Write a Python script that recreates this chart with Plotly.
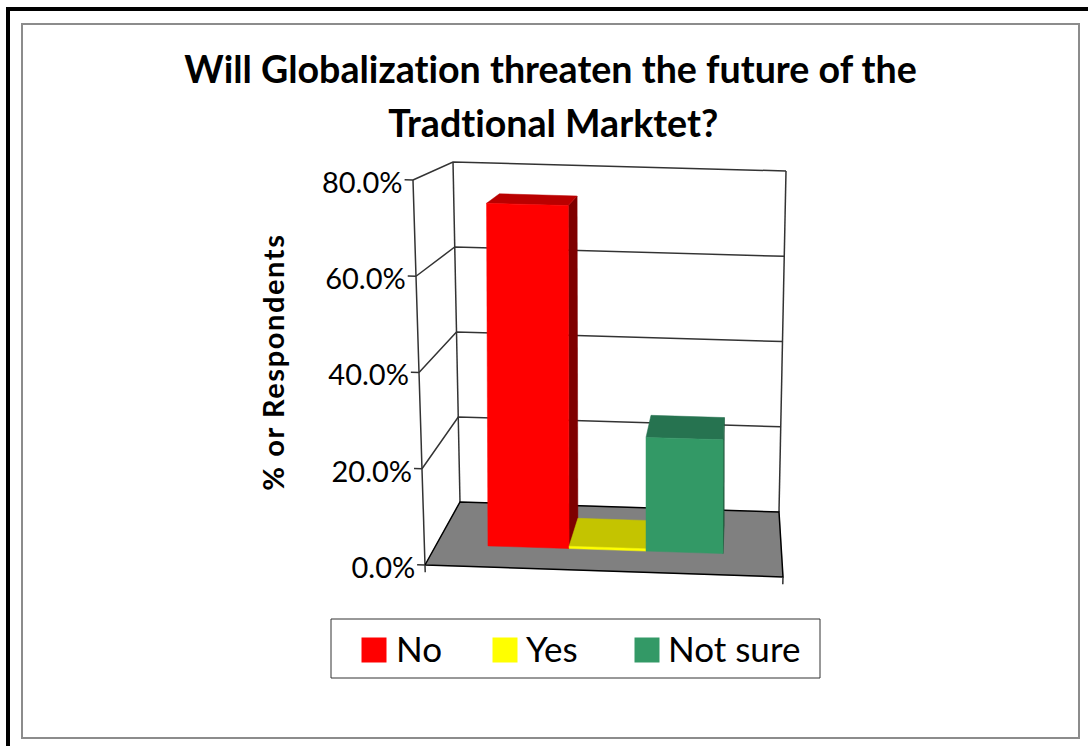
import plotly.graph_objects as go

# Survey results
categories = ["No", "Yes", "Not sure"]
shares = [0.74, 0.005, 0.245]
tick_values = [0.0, 0.2, 0.4, 0.6, 0.8]
tick_labels = ["0.0%", "20.0%", "40.0%", "60.0%", "80.0%"]
title_lines = ["Will Globalization threaten the future of the", "Tradtional Marktet?"]
value_title = "% or Respondents"

# Face shades for each series: front, top, side
front_colors = ["#FF0000", "#FFFF00", "#339966"]
top_colors = ["#BA0000", "#C4C400", "#267350"]
side_colors = ["#7F0000", "#7F7F00", "#1A4D33"]

VALUE_MAX = 0.8
FONT = "Lato"

# Screen corners of the 3D plot box, keyed (across, depth, height)
BOX = {
    (0, 0, 0): (425, 565), (1, 0, 0): (783, 577),
    (0, 1, 0): (460, 502), (1, 1, 0): (779, 512),
    (0, 0, 1): (413, 180), (1, 0, 1): (795, 190),
    (0, 1, 1): (453, 162), (1, 1, 1): (786, 171),
}
# Bars rise almost straight up, so their volume leans far less than the walls
BAR_BOX = dict(BOX)
BAR_BOX.update({
    (0, 0, 1): (423, 180), (1, 0, 1): (784, 190),
    (0, 1, 1): (458, 162), (1, 1, 1): (780, 171),
})
BAR_EDGES = [0.149, 0.384, 0.607, 0.83]
BAR_DEPTH = (0.33, 0.77)


def project(u, d, value, box=BOX):
    """Map a point of the plot box to figure coordinates."""
    h = value / VALUE_MAX
    x = y = 0.0
    for (cu, cd, ch), (px, py) in box.items():
        w = (u if cu else 1 - u) * (d if cd else 1 - d) * (h if ch else 1 - h)
        x += w * px
        y += w * py
    return x, y


def polygon(points, color, box=BOX, name=None):
    xs, ys = zip(*[project(*p, box) for p in points])
    return go.Scatter(x=list(xs) + [xs[0]], y=list(ys) + [ys[0]], mode="lines", fill="toself",
                      fillcolor=color, line=dict(color=color, width=0.5),
                      hoverinfo="skip", showlegend=False, name=name)


def polyline(points, color="#333333", width=1.5):
    xs, ys = zip(*[project(*p) for p in points])
    return go.Scatter(x=xs, y=ys, mode="lines", line=dict(color=color, width=width),
                      hoverinfo="skip", showlegend=False)


fig = go.Figure()

# Floor
fig.add_trace(polygon([(0, 0, 0), (1, 0, 0), (1, 1, 0), (0, 1, 0)], "#808080"))

# Walls and gridlines
for v in tick_values[1:]:
    fig.add_trace(polyline([(0, 0, v), (0, 1, v), (1, 1, v)]))
fig.add_trace(polyline([(0, 0, 0), (0, 0, VALUE_MAX)]))
fig.add_trace(polyline([(0, 1, 0), (0, 1, VALUE_MAX)]))
fig.add_trace(polyline([(1, 1, 0), (1, 1, VALUE_MAX)]))
fig.add_trace(polyline([(0, 0, 0), (0, 1, 0), (1, 1, 0), (1, 0, 0), (0, 0, 0)], "#000000"))

# Tick marks along the front-left edge and under the floor
for v in tick_values:
    fig.add_trace(polyline([(0, 0, v), (-0.022, 0, v)]))
for u in (0, 1):
    fig.add_trace(polyline([(u, 0, 0), (u, 0, -0.015)]))

# Bars, painted left to right
near, far = BAR_DEPTH
for i, value in enumerate(shares):
    a, b = BAR_EDGES[i], BAR_EDGES[i + 1]
    fig.add_trace(polygon([(b, near, 0), (b, far, 0), (b, far, value), (b, near, value)], side_colors[i], BAR_BOX))
    fig.add_trace(polygon([(a, near, value), (b, near, value), (b, far, value), (a, far, value)], top_colors[i], BAR_BOX))
    fig.add_trace(polygon([(a, near, 0), (b, near, 0), (b, near, value), (a, near, value)], front_colors[i], BAR_BOX, categories[i]))

# Value labels beside the tick marks
label_xy = [project(-0.03, 0, v) for v in tick_values]
fig.add_trace(go.Scatter(x=[p[0] + 1 for p in label_xy], y=[p[1] + 6 for p in label_xy], mode="text",
                         text=tick_labels, textposition="middle left",
                         textfont=dict(family=FONT, size=29, color="#000000"),
                         hoverinfo="skip", showlegend=False))

# Legend swatches and names
legend_swatch_x = [374, 505, 647]
legend_text_x = [396, 526, 668]
fig.add_trace(go.Scatter(x=legend_swatch_x, y=[650] * 3, mode="markers",
                         marker=dict(symbol="square", size=25, color=front_colors, line=dict(width=0)),
                         hoverinfo="skip", showlegend=False))
fig.add_trace(go.Scatter(x=legend_text_x, y=[653] * 3, mode="text", text=categories,
                         textposition="middle right",
                         textfont=dict(family=FONT, size=35, color="#000000"),
                         hoverinfo="skip", showlegend=False))

annotations = [
    dict(x=x, y=y, xref="x", yref="y", text=f"<b>{t}</b>", showarrow=False, xanchor="center", yanchor="middle",
         font=dict(family=FONT, size=37.6, color="#000000"))
    for t, x, y in zip(title_lines, (550, 553), (68, 122))
]
annotations.append(dict(x=272, y=362, xref="x", yref="y", text=f"<b>{value_title}</b>", showarrow=False,
                        textangle=-90, xanchor="center", yanchor="middle",
                        font=dict(family=FONT, size=29, color="#000000")))

frame = [
    # outer heavy border, top and left only
    dict(type="line", x0=6, x1=1088, y0=9, y1=9, line=dict(color="#000000", width=4)),
    dict(type="line", x0=8, x1=8, y0=7, y1=746, line=dict(color="#000000", width=4)),
    # chart area border
    dict(type="rect", x0=22, x1=1079, y0=24, y1=738, line=dict(color="#8c8c8c", width=2)),
    # legend box
    dict(type="rect", x0=331, x1=820, y0=619, y1=678, line=dict(color="#333333", width=1)),
]

fig.update_layout(
    width=1088, height=746, margin=dict(l=0, r=0, t=0, b=0),
    paper_bgcolor="#FFFFFF", plot_bgcolor="rgba(0,0,0,0)",
    showlegend=False, annotations=annotations, shapes=frame,
    xaxis=dict(range=[0, 1088], visible=False, fixedrange=True),
    yaxis=dict(range=[746, 0], visible=False, fixedrange=True),
)

# Plain letterforms without ligatures, and an airier axis title
text_style = """
var s = document.createElement('style');
s.textContent = "svg text{font-variant-ligatures:none !important;font-feature-settings:'liga' 0,'clig' 0 !important}"
  + " .annotation[data-index='2'] text{letter-spacing:1.6px}";
document.head.appendChild(s);
"""
fig.write_html("out.html", post_script=text_style)
